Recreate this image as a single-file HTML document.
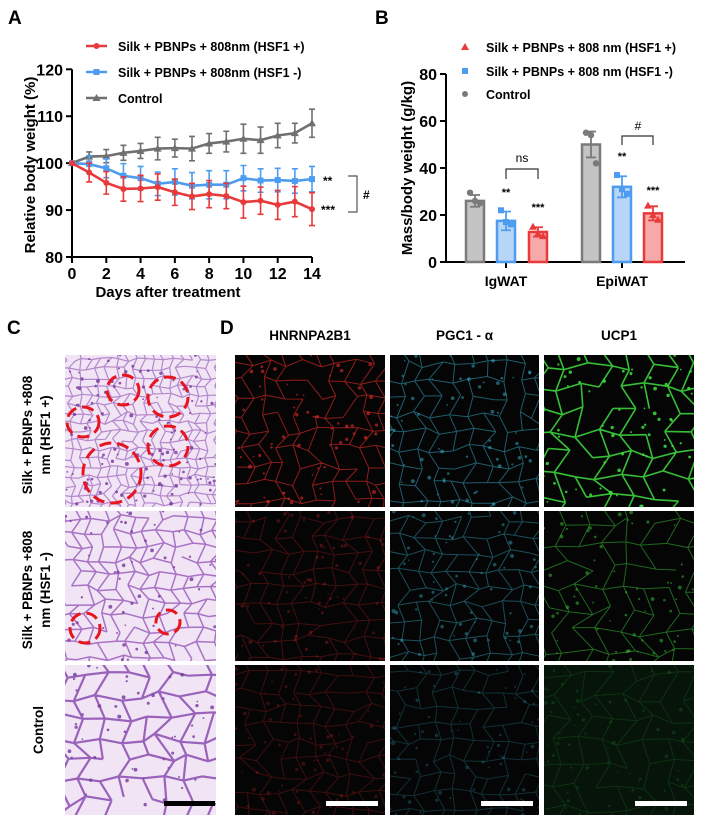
<!DOCTYPE html>
<html><head><meta charset="utf-8">
<style>
html,body{margin:0;padding:0;background:#fff;}
svg{display:block;font-family:"Liberation Sans",Arial,sans-serif;font-weight:bold;}
</style></head>
<body>
<svg id="fig" width="703" height="826" viewBox="0 0 703 826">
<g id="pa"></g>
<g id="pb"></g>
<g id="pc"></g>
<g id="pd"></g>
</svg>
<script>
// ---- Panel A data ----
const days = [0,1,2,3,4,5,6,7,8,9,10,11,12,13,14];
const redVals  = [100,98,95.8,94.5,94.6,94.9,93.8,92.9,93.4,93.0,91.7,92.0,91.1,91.8,90.2];
const redErr   = [0,2,2.4,2.6,2.8,2.8,2.8,2.8,2.9,2.7,3.4,2.9,3.1,3.2,3.5];
const blueVals = [100,99.8,98.9,97.3,96.8,95.6,96.0,95.2,95.4,95.4,96.8,96.3,96.4,96.2,96.6];
const blueErr  = [0,1.8,2,2.6,2.5,2.5,2.8,2.8,3,3,2.7,2.5,2.5,2.6,2.7];
const grayVals = [100,101.4,101.5,102.2,102.6,103.1,103.2,103.1,104.2,104.6,105.2,104.9,105.9,106.4,108.5];
const grayErr  = [0,1,1.4,1.6,1.6,2.4,1.9,2.6,2.1,2.2,3.1,2.8,2.6,2.1,3];
const aYTicks = [80,90,100,110,120];
const aXTicks = [0,2,4,6,8,10,12,14];
// ---- Panel B data ----
const bCats = ["IgWAT","EpiWAT"];
const bGray = [26,50], bGrayErr=[2.5,5.5], bGrayPts=[[29.5,26,25],[55,54,42]];
const bBlue = [17.5,32], bBlueErr=[4,4.5], bBluePts=[[22,17,16],[37,31,29]];
const bRed  = [12.8,20.7], bRedErr=[2,3], bRedPts=[[15,12,11],[24,20,18]];
const bYTicks = [0,20,40,60,80];

const NS="http://www.w3.org/2000/svg";
function mk(parent,tag,attrs,text){const e=document.createElementNS(NS,tag);for(const k in attrs)e.setAttribute(k,attrs[k]);if(text!==undefined)e.textContent=text;parent.appendChild(e);return e;}

// ===== Panel A =====
const A=document.getElementById('pa');
const ax=d=>72+d*(240/14), ay=v=>257-(v-80)*(187.7/40);
let t=mk(A,'text',{x:8,y:24,'font-size':19},'A');

let l=mk(A,'path',{d:`M72 ${ay(120)} V257 H312`,fill:'none',stroke:'#000','stroke-width':2});

aYTicks.forEach(v=>{mk(A,'line',{x1:66,x2:72,y1:ay(v),y2:ay(v),stroke:'#000','stroke-width':2});
 const tt=mk(A,'text',{x:63,y:ay(v)+6,'font-size':16,'text-anchor':'end'},v);
 });
aXTicks.forEach(d=>{mk(A,'line',{x1:ax(d),x2:ax(d),y1:257,y2:263,stroke:'#000','stroke-width':2});
 const tt=mk(A,'text',{x:ax(d),y:279,'font-size':16,'text-anchor':'middle'},d);
 });
t=mk(A,'text',{x:168,y:297,'font-size':15,'text-anchor':'middle'},'Days after treatment');

t=mk(A,'text',{x:0,y:0,'font-size':15,'text-anchor':'middle',transform:'translate(35,165) rotate(-90)'},'Relative body weight (%)');

function series(vals,errs,col,marker,name){
  const g=mk(A,'g',{});
  days.forEach((d,i)=>{if(errs[i]>0){mk(g,'path',{d:`M${ax(d)} ${ay(vals[i]-errs[i])}V${ay(vals[i]+errs[i])}M${ax(d)-3} ${ay(vals[i]-errs[i])}h6M${ax(d)-3} ${ay(vals[i]+errs[i])}h6`,stroke:col,'stroke-width':1.6,fill:'none'});}});
  mk(g,'polyline',{points:days.map((d,i)=>ax(d)+','+ay(vals[i])).join(' '),fill:'none',stroke:col,'stroke-width':2.6});
  days.forEach((d,i)=>{const x=ax(d),y=ay(vals[i]);
    if(marker==='c')mk(g,'circle',{cx:x,cy:y,r:3,fill:col});
    else if(marker==='s')mk(g,'rect',{x:x-3,y:y-3,width:6,height:6,fill:col});
    else mk(g,'path',{d:`M${x} ${y-4}L${x+4} ${y+3}L${x-4} ${y+3}Z`,fill:col});});
}
series(grayVals,grayErr,'#707070','t','series-control');
series(blueVals,blueErr,'#4d9cf0','s','series-hsf1-minus');
series(redVals,redErr,'#e83a3a','c','series-hsf1-plus');
[['#e83a3a','c','Silk + PBNPs + 808nm (HSF1 +)',46],['#4d9cf0','s','Silk + PBNPs + 808nm (HSF1 -)',72],['#707070','t','Control',98]].forEach((e,i)=>{
 const g=mk(A,'g',{});
 mk(g,'line',{x1:86,x2:107,y1:e[3],y2:e[3],stroke:e[0],'stroke-width':2.6});
 if(e[1]==='c')mk(g,'circle',{cx:96.5,cy:e[3],r:3,fill:e[0]});else if(e[1]==='s')mk(g,'rect',{x:93.5,y:e[3]-3,width:6,height:6,fill:e[0]});else mk(g,'path',{d:`M96.5 ${e[3]-4}l4 7h-8z`,fill:e[0]});
 mk(g,'text',{x:118,y:e[3]+5,'font-size':12.5},e[2]);});
mk(A,'text',{x:323,y:185,'font-size':12},'**');
mk(A,'text',{x:321,y:214,'font-size':12},'***');
l=mk(A,'path',{d:'M348 176H357V212H348',fill:'none',stroke:'#555','stroke-width':1.2});

mk(A,'text',{x:363,y:199,'font-size':12},'#');

// ===== Panel B =====
const B=document.getElementById('pb');
const by=v=>262-v*(188/80);
const bCenters=[[475,506,538],[591,622,653]];
t=mk(B,'text',{x:375,y:24,'font-size':19},'B');

l=mk(B,'path',{d:`M446 ${by(80)}V262H685`,fill:'none',stroke:'#000','stroke-width':2});

bYTicks.forEach(v=>{mk(B,'line',{x1:440,x2:446,y1:by(v),y2:by(v),stroke:'#000','stroke-width':2});
 const tt=mk(B,'text',{x:437,y:by(v)+6,'font-size':16,'text-anchor':'end'},v);
 });
t=mk(B,'text',{x:0,y:0,'font-size':15,'text-anchor':'middle',transform:'translate(412,168) rotate(-90)'},'Mass/body weight (g/kg)');

bCats.forEach((c,ci)=>{const cx=bCenters[ci][1];
 mk(B,'line',{x1:cx,x2:cx,y1:262,y2:268,stroke:'#000','stroke-width':2});
 const tt=mk(B,'text',{x:cx,y:286,'font-size':14,'text-anchor':'middle'},c);
 
 [[bGray,bGrayErr,bGrayPts,'#7a7a7a','#c4c4c4','c'],[bBlue,bBlueErr,bBluePts,'#4d9cf0','#b7d5f7','s'],[bRed,bRedErr,bRedPts,'#e83a3a','#f5a9a9','t']].forEach((s,si)=>{
  const x=bCenters[ci][si],v=s[0][ci],e=s[1][ci];
  const r=mk(B,'rect',{x:x-9,y:by(v),width:18,height:262-by(v),fill:s[4],stroke:s[3],'stroke-width':2.5});
  
  mk(B,'path',{d:`M${x} ${by(v-e)}V${by(v+e)}M${x-5} ${by(v+e)}h10M${x-5} ${by(v-e)}h10`,stroke:s[3],'stroke-width':1.8,fill:'none'});
  s[2][ci].forEach((p,pi)=>{const px=x+(pi-1)*5,py=by(p);
   if(s[5]==='c')mk(B,'circle',{cx:px,cy:py,r:3.2,fill:s[3]});else if(s[5]==='s')mk(B,'rect',{x:px-3,y:py-3,width:6,height:6,fill:s[3]});else mk(B,'path',{d:`M${px} ${py-4}l4 7h-8z`,fill:s[3]});});
 });});
[['**',506,196],['***',538,211],['**',622,160],['***',653,194]].forEach(s=>mk(B,'text',{x:s[1],y:s[2],'font-size':11,'text-anchor':'middle'},s[0]));
mk(B,'path',{d:'M506 179V169H538V179',fill:'none',stroke:'#333','stroke-width':1.2});
mk(B,'text',{x:522,y:162,'font-size':12,'text-anchor':'middle',style:'font-weight:normal'},'ns');
mk(B,'path',{d:'M622 145V136H653V145',fill:'none',stroke:'#333','stroke-width':1.2});
mk(B,'text',{x:638,y:130,'font-size':12,'text-anchor':'middle',style:'font-weight:normal'},'#');
[['#e83a3a','t','Silk + PBNPs + 808 nm (HSF1 +)',47],['#4d9cf0','s','Silk + PBNPs + 808 nm (HSF1 -)',71],['#7a7a7a','c','Control',94]].forEach(e=>{
 const g=mk(B,'g',{});
 if(e[1]==='c')mk(g,'circle',{cx:465,cy:e[3],r:3,fill:e[0]});else if(e[1]==='s')mk(g,'rect',{x:462,y:e[3]-3,width:6,height:6,fill:e[0]});else mk(g,'path',{d:`M465 ${e[3]-4}l4 7h-8z`,fill:e[0]});
 mk(g,'text',{x:486,y:e[3]+5,'font-size':12.5},e[2]);});

// ===== Micrographs (decorative texture) =====
let seed=7;function rnd(){seed=(seed*16807)%2147483647;return seed/2147483647;}
function mesh(g,x,y,w,h,s,col,sw,op,dots,dotCol){
  const cols=Math.ceil(w/s)+2,rows=Math.ceil(h/s)+2,P=[];
  for(let j=0;j<rows;j++){P[j]=[];for(let i=0;i<cols;i++)P[j][i]=[x+(i-0.5)*s+(rnd()-0.5)*s*0.5+(j%2)*s/2,y+(j-0.5)*s+(rnd()-0.5)*s*0.5];}
  let d='';
  for(let j=0;j<rows;j++)for(let i=0;i<cols;i++){const p=P[j][i];
    if(i+1<cols&&rnd()<0.85)d+=`M${p[0].toFixed(1)} ${p[1].toFixed(1)}L${P[j][i+1][0].toFixed(1)} ${P[j][i+1][1].toFixed(1)}`;
    if(j+1<rows&&rnd()<0.85)d+=`M${p[0].toFixed(1)} ${p[1].toFixed(1)}L${P[j+1][i][0].toFixed(1)} ${P[j+1][i][1].toFixed(1)}`;}
  mk(g,'path',{d:d,stroke:col,'stroke-width':sw,fill:'none',opacity:op,'stroke-linejoin':'round'});
  for(let k=0;k<dots;k++)mk(g,'circle',{cx:x+rnd()*w,cy:y+rnd()*h,r:0.8+rnd()*1.2,fill:dotCol||col,opacity:op});
}
let cid=0;
function panel(parent,x,y,w,h,bg,name){cid++;
  const cp=mk(parent,'clipPath',{id:'cl'+cid});
  mk(cp,'rect',{x:x,y:y,width:w,height:h});
  const g=mk(parent,'g',{'clip-path':`url(#cl${cid})`});
  mk(g,'rect',{x:x,y:y,width:w,height:h,fill:bg});return g;}

// Panel C
const C=document.getElementById('pc');
t=mk(C,'text',{x:7,y:334,'font-size':19},'C');
const rowsY=[[355,152],[511,150],[665,150]];
const cSizes=[9,14,21],cWidths=[1.2,1.5,2.2],cCols=['#a878c4','#9c5fbc','#8a4bb0'];
rowsY.forEach((r,i)=>{const g=panel(C,65,r[0],151,r[1],'#f1e4f4','he-image-row-'+(i+1));
  mesh(g,65,r[0],151,r[1],cSizes[i],cCols[i],cWidths[i],0.85,i===0?120:50,'#7b3fa0');});
const circlesC=[[123,390,16,15],[168,397,20,20],[83,422,16,15],[168,446,20,20],[112,473,29,30],[85,628,15,15],[168,622,12,12]];
circlesC.forEach(c=>{const e=mk(C,'ellipse',{cx:c[0],cy:c[1],rx:c[2],ry:c[3],fill:'none',stroke:'#e8141e','stroke-width':3,'stroke-dasharray':'12 6'});
  });
l=mk(C,'rect',{x:164,y:801,width:51,height:5,fill:'#000'});
[['Silk + PBNPs +808','nm (HSF1 +)',435],['Silk + PBNPs +808','nm (HSF1 -)',590]].forEach(s=>{
 const tt=mk(C,'text',{'font-size':13.5,'text-anchor':'middle',transform:`translate(32,${s[2]}) rotate(-90)`},s[0]);
 
 mk(C,'text',{'font-size':13.5,'text-anchor':'middle',transform:`translate(50,${s[2]}) rotate(-90)`},s[1]);});
t=mk(C,'text',{'font-size':13.5,'text-anchor':'middle',transform:'translate(43,730) rotate(-90)'},'Control');


// Panel D
const D=document.getElementById('pd');
t=mk(D,'text',{x:220,y:334,'font-size':19},'D');
const dCols=[[235,150,'#ff3030','HNRNPA2B1'],[390,149,'#40c8e8','PGC1 - α'],[544,150,'#40e040','UCP1']];
const dOp=[[0.55,0.45,0.85],[0.25,0.38,0.45],[0.22,0.22,0.14]];
dCols.forEach((c,ci)=>{
 const tt=mk(D,'text',{x:c[0]+c[1]/2,y:340,'font-size':13.5,'text-anchor':'middle'},c[3]);
 
 rowsY.forEach((r,ri)=>{const g=panel(D,c[0],r[0],c[1],r[1],ci===2&&ri===2?'#06140a':'#050505','fluorescence-'+c[3].replace(/\W+/g,'').toLowerCase()+'-row-'+(ri+1));
   mesh(g,c[0],r[0],c[1],r[1],ci===2?22:17,c[2],ci===2&&ri===0?1.6:1.0,dOp[ri][ci],60,c[2]);
   if(ri===2){const b=mk(D,'rect',{x:c[0]+91,y:801,width:52,height:5,fill:'#fff'});}
 });});
</script>
</body></html>
